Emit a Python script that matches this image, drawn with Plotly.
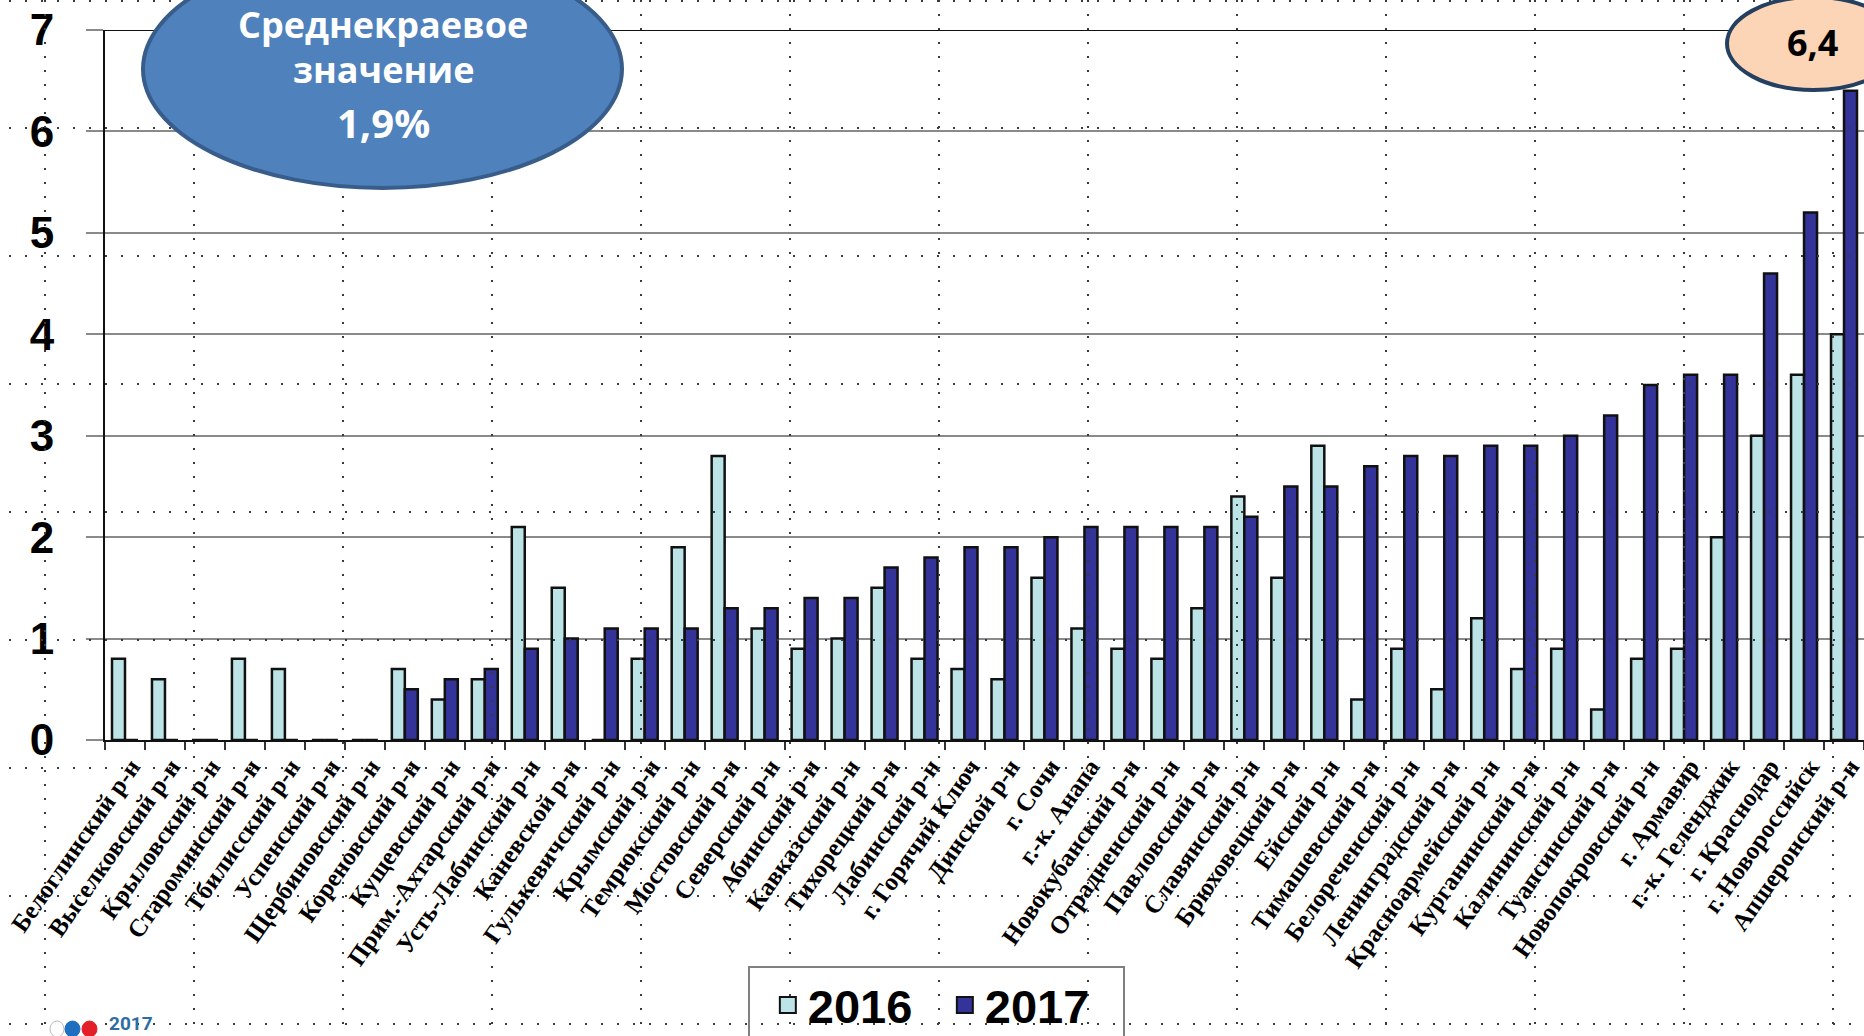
import plotly.graph_objects as go

categories = [
    "Белоглинский р-н", "Выселковский р-н", "Крыловский р-н", "Староминский р-н",
    "Тбилисский р-н", "Успенский р-н", "Щербиновский р-н", "Кореновский р-н",
    "Кущевский р-н", "Прим.-Ахтарский р-н", "Усть-Лабинский р-н", "Каневской р-н",
    "Гулькевичский р-н", "Крымский р-н", "Темрюкский р-н", "Мостовский р-н",
    "Северский р-н", "Абинский р-н", "Кавказский р-н", "Тихорецкий р-н",
    "Лабинский р-н", "г. Горячий Ключ", "Динской р-н", "г. Сочи",
    "г.-к. Анапа", "Новокубанский р-н", "Отрадненский р-н", "Павловский р-н",
    "Славянский р-н", "Брюховецкий р-н", "Ейский р-н", "Тимашевский р-н",
    "Белореченский р-н", "Ленинградский р-н", "Красноармейский р-н", "Курганинский р-н",
    "Калининский р-н", "Туапсинский р-н", "Новопокровский р-н", "г. Армавир",
    "г.-к. Геленджик", "г. Краснодар", "г. Новороссийск", "Апшеронский р-н",
]

values_2016 = [
    0.8, 0.6, 0.0, 0.8, 0.7, 0.0, 0.0, 0.7, 0.4, 0.6, 2.1, 1.5,
    0.0, 0.8, 1.9, 2.8, 1.1, 0.9, 1.0, 1.5, 0.8, 0.7, 0.6, 1.6,
    1.1, 0.9, 0.8, 1.3, 2.4, 1.6, 2.9, 0.4, 0.9, 0.5, 1.2, 0.7,
    0.9, 0.3, 0.8, 0.9, 2.0, 3.0, 3.6, 4.0,
]

values_2017 = [
    0.0, 0.0, 0.0, 0.0, 0.0, 0.0, 0.0, 0.5, 0.6, 0.7, 0.9, 1.0,
    1.1, 1.1, 1.1, 1.3, 1.3, 1.4, 1.4, 1.7, 1.8, 1.9, 1.9, 2.0,
    2.1, 2.1, 2.1, 2.1, 2.2, 2.5, 2.5, 2.7, 2.8, 2.8, 2.9, 2.9,
    3.0, 3.2, 3.5, 3.6, 3.6, 4.6, 5.2, 6.4,
]

y_ticks = [0, 1, 2, 3, 4, 5, 6, 7]
series_names = ["2016", "2017"]
series_colors = ["#BCE3E5", "#333399"]
average_lines = ["Среднекраевое", "значение", "1,9%"]
max_label = "6,4"
logo_label = "2017"

W, H = 1864, 1036
PL, PR, PT, PB = 105, 1864, 30, 740


def px_x(p):
    return (p - PL) / (PR - PL)


def px_y(p):
    return (PB - p) / (PB - PT)


fig = go.Figure()
for name, vals, col in zip(series_names, [values_2016, values_2017], series_colors):
    fig.add_trace(go.Bar(
        x=categories, y=vals, name=name, legendgroup=name, showlegend=False,
        marker=dict(color=col, line=dict(color="#111111", width=2.5)),
    ))
# legend entries (bigger square keys than the default bar key)
for name, col in zip(series_names, series_colors):
    fig.add_trace(go.Scatter(
        x=[None], y=[None], name=name, legendgroup=name, mode="markers",
        marker=dict(symbol="square", size=16, color=col, line=dict(color="#111111", width=2)),
    ))

shapes = []
# dotted background pattern (slide texture)
for ry in [1, 128, 256, 384, 512, 640, 768, 896, 1024]:
    shapes.append(dict(type="line", xref="paper", yref="paper",
                       x0=px_x(9), x1=px_x(1864), y0=px_y(ry), y1=px_y(ry),
                       line=dict(color="#3a3a3a", width=2, dash="2px,14px"), layer="above"))
for k in range(13):
    cx = 45 + 149 * k
    shapes.append(dict(type="line", xref="paper", yref="paper",
                       x0=px_x(cx), x1=px_x(cx), y0=px_y(0), y1=px_y(1036),
                       line=dict(color="#3a3a3a", width=2, dash="2px,12px"), layer="above"))

# top border of plot area
shapes.append(dict(type="line", xref="paper", yref="y", x0=0, x1=1, y0=7, y1=7,
                   line=dict(color="#111111", width=2), layer="above"))

# blue ellipse
shapes.append(dict(type="circle", xref="paper", yref="paper",
                   x0=px_x(143), x1=px_x(622), y0=px_y(-50), y1=px_y(188),
                   fillcolor="#4F81BD", line=dict(color="#385D8A", width=4), layer="above"))
# peach ellipse
shapes.append(dict(type="circle", xref="paper", yref="paper",
                   x0=px_x(1727), x1=px_x(1900), y0=px_y(-3), y1=px_y(90),
                   fillcolor="#FBD5B5", line=dict(color="#243F60", width=4), layer="above"))

# logo circles bottom-left
for (x0, x1, fc, lc) in [(50, 64, "#FFFFFF", "#BBBBBB"), (65, 80, "#1F6FC0", "#1F6FC0"),
                         (82, 97, "#E3202A", "#E3202A")]:
    shapes.append(dict(type="circle", xref="paper", yref="paper",
                       x0=px_x(x0), x1=px_x(x1), y0=px_y(1021), y1=px_y(1037),
                       fillcolor=fc, line=dict(color=lc, width=1), layer="above"))

annotations = []
for txt, yc, fs in zip(average_lines, [24, 69, 122], [36, 36, 40]):
    annotations.append(dict(xref="paper", yref="paper", x=px_x(383), y=px_y(yc), showarrow=False,
                            xanchor="center", yanchor="middle", text=txt,
                            font=dict(family="Open Sans", size=fs, color="white", weight="bold")))
annotations.append(dict(xref="paper", yref="paper", x=px_x(1812), y=px_y(43), showarrow=False,
                        xanchor="center", yanchor="middle", text=max_label,
                        font=dict(family="Open Sans", size=36, color="black", weight="bold")))
annotations.append(dict(xref="paper", yref="paper", x=px_x(131), y=px_y(1023), showarrow=False,
                        xanchor="center", yanchor="middle", text=logo_label,
                        font=dict(family="Roboto", size=19, color="#2E6DA4", weight="bold")))

fig.update_layout(
    width=W, height=H, autosize=False,
    margin=dict(l=PL, r=W - PR, t=PT, b=H - PB, pad=0, autoexpand=False),
    paper_bgcolor="white", plot_bgcolor="white",
    barmode="group", bargap=0.35, bargroupgap=0,
    showlegend=True,
    legend=dict(orientation="h", x=px_x(936), xanchor="center", y=px_y(966), yanchor="top",
                bgcolor="rgba(0,0,0,0)", bordercolor="#808080", borderwidth=2,
                entrywidth=132, entrywidthmode="pixels", itemsizing="trace",
                title=dict(text="&nbsp;", side="left",
                           font=dict(family="Liberation Sans", size=30, color="black")),
                font=dict(family="Liberation Sans", size=47, color="black", weight="bold"),
                traceorder="normal"),
    shapes=shapes,
    annotations=annotations,
    xaxis=dict(type="category", range=[-0.5, len(categories) - 0.5], automargin=False,
               tickson="boundaries", ticks="outside", ticklen=8, tickwidth=2, tickcolor="#333333",
               showline=True, linecolor="#111111", linewidth=2, showgrid=False,
               tickangle=-55, ticklabelstandoff=0, ticklabelshift=6,
               tickfont=dict(family="Liberation Serif", size=25, color="black", weight="bold")),
    yaxis=dict(range=[0, 7], tickvals=y_ticks, ticktext=[str(v) for v in y_ticks], automargin=False,
               showgrid=True, gridcolor="#8a8a8a", gridwidth=2, zeroline=False,
               ticks="outside", ticklen=17, tickwidth=2, tickcolor="#8a8a8a",
               showline=True, linecolor="#111111", linewidth=2,
               ticklabelstandoff=23,
               tickfont=dict(family="Liberation Sans", size=44, color="black", weight="bold")),
)

fig.write_html(
    "out.html",
    config={"displayModeBar": False},
    post_script="document.body.style.margin='0';document.body.style.overflow='hidden';",
)
